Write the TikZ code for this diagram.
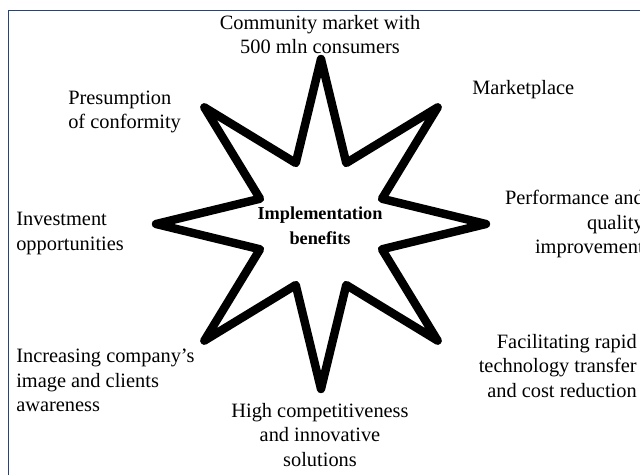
\documentclass[tikz,border=0pt]{standalone}
\usepackage{fontspec}
\setmainfont{Liberation Serif}
\definecolor{framecol}{RGB}{38,66,128}
\tikzset{
  benefit/.style={inner sep=0pt, font=\fontsize{14.5}{17.5}\selectfont},
  hubtext/.style={inner sep=0pt, align=center, font=\fontsize{13}{17.5}\selectfont\bfseries},
  starline/.style={line width=0.21cm, line join=round}
}
\begin{document}
\begin{tikzpicture}
%definitions
\def\outr{4.125}
\def\innr{1.65}
\useasboundingbox (-8,-6.3) rectangle (8,5.55);
\draw[framecol, line width=0.04cm] (8.5,5.29) -- (-7.79,5.29) -- (-7.79,-7);

% the star
\begin{scope}[shift={(0.025,-0.05)}]
\draw[starline] (90:\outr)
  \foreach \k in {0,...,7} { -- (112.5+45*\k:\innr) -- (135+45*\k:\outr) } -- cycle;
\end{scope}
\node[hubtext] (hub) at (0,-0.1) {Implementation\\benefits};

% benefits round the star
\node[benefit, align=center] (market) at (0,4.69) {Community market with\\500 mln consumers};
\node[benefit, anchor=west] (place) at (3.8,3.3) {Marketplace};
\node[benefit, align=left, anchor=west] (presum) at (-6.3,2.75) {Presumption\\of conformity};
\node[benefit, align=left, anchor=west] (invest) at (-7.6,-0.29) {Investment\\opportunities};
\node[benefit, align=right, anchor=east] (perform) at (8.1,-0.05) {Performance and\\quality\\improvement};
\node[benefit, align=right, anchor=east] (transfer) at (7.925,-3.6) {Facilitating rapid\\technology transfer\\and cost reduction};
\node[benefit, align=left, anchor=west] (image) at (-7.6,-3.96) {Increasing company’s\\image and clients\\awareness};
\node[benefit, align=center] (compet) at (0,-5.325) {High competitiveness\\and innovative\\solutions};
\end{tikzpicture}
\end{document}
